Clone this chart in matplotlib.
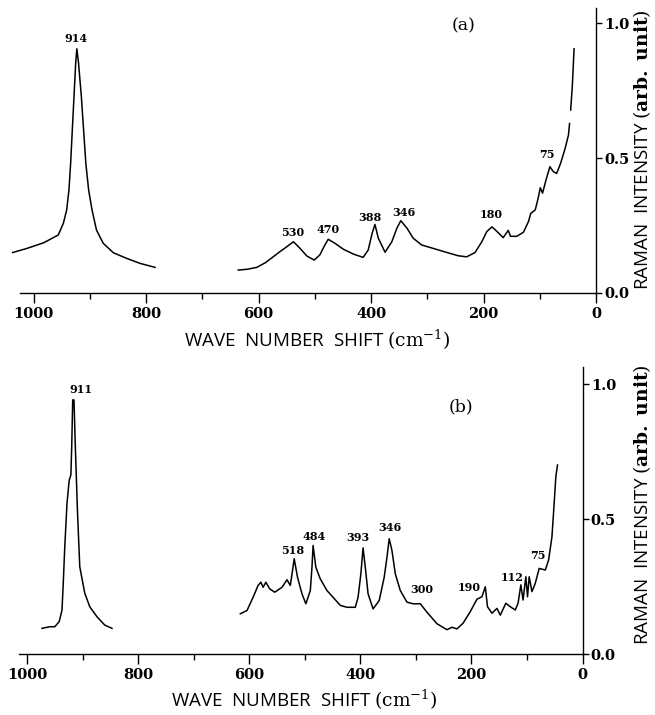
import numpy as np
import matplotlib
matplotlib.use("Agg")
import matplotlib.pyplot as plt
from matplotlib.ticker import MultipleLocator

plt.rcParams['mathtext.fontset'] = 'dejavuserif'

# (a) spectrum: peak near 914 and the 636..39 cm-1 part
xa_left = [1037, 1012, 982, 956, 947, 941, 937, 934, 931, 928, 925, 923, 920, 915, 911,
           907, 902, 896, 888, 876, 858, 834, 811, 784]
ya_left = [0.15, 0.165, 0.186, 0.215, 0.258, 0.308, 0.382, 0.481, 0.605, 0.729, 0.853,
           0.905, 0.853, 0.729, 0.605, 0.481, 0.382, 0.308, 0.233, 0.184, 0.149, 0.128,
           0.11, 0.095]
xa_right = [636, 620, 603, 588, 574, 562, 550, 538, 526, 514, 501, 491, 482, 476, 464,
            449, 431, 414, 405, 398, 393, 387, 375, 363, 354, 347, 336, 325, 310, 289,
            265, 245, 230, 215, 203, 194, 185, 176, 165, 156, 152, 141, 129, 120, 116,
            108, 103, 99, 95, 89, 82, 76, 70, 63, 55, 49, 47, np.nan, 45, 42, 39]
ya_right = [0.085, 0.088, 0.095, 0.112, 0.134, 0.153, 0.171, 0.19, 0.165, 0.137, 0.122,
            0.141, 0.178, 0.199, 0.184, 0.162, 0.144, 0.132, 0.159, 0.221, 0.254, 0.203,
            0.151, 0.19, 0.24, 0.268, 0.24, 0.203, 0.178, 0.165, 0.15, 0.138, 0.134,
            0.15, 0.19, 0.228, 0.245, 0.228, 0.205, 0.232, 0.21, 0.21, 0.225, 0.265,
            0.295, 0.308, 0.35, 0.39, 0.37, 0.418, 0.468, 0.45, 0.443, 0.48, 0.535,
            0.585, 0.628, np.nan, 0.678, 0.77, 0.905]
peaks_a = ['914', '530', '470', '388', '346', '180', '75']
peaks_a_x = [924, 539, 476, 402, 341, 187, 87]
peaks_a_y = [0.943, 0.225, 0.236, 0.279, 0.299, 0.29, 0.515]

# (b) spectrum
xb_left = [973, 959, 950, 942, 937, 935, 932, 928, 924, 921, 919.5, 917.7, 915.4, 913,
           909, 905, 896, 887, 874, 860, 847]
yb_left = [0.095, 0.101, 0.101, 0.12, 0.163, 0.249, 0.397, 0.558, 0.644, 0.663, 0.768,
           0.941, 0.941, 0.768, 0.521, 0.323, 0.225, 0.175, 0.138, 0.107, 0.095]
xb_right = [616, 604, 593, 584, 579, 575, 570, 563, 554, 541, 532, 526, 522, 519, 513,
            505, 498, 490, 487, 485, 480, 472, 460, 449, 436, 424, 409, 404, 399, 395,
            391, 386, 377, 366, 357, 352, 348, 343, 337, 328, 316, 305, 292, 280, 262,
            244, 235, 226, 215, 202, 190, 181, 175, 171, 163, 154, 148, 138, 130, 121,
            116, 111, 107, 102, 99, 96, 91, 85, 78, 67, 61, 55, 51, 48, 45]
yb_right = [0.149, 0.161, 0.21, 0.254, 0.266, 0.247, 0.266, 0.241, 0.229, 0.247, 0.275,
            0.254, 0.309, 0.353, 0.284, 0.223, 0.186, 0.235, 0.321, 0.402, 0.321, 0.278,
            0.235, 0.21, 0.18, 0.173, 0.173, 0.21, 0.297, 0.393, 0.321, 0.223, 0.167,
            0.198, 0.284, 0.358, 0.427, 0.383, 0.297, 0.235, 0.192, 0.186, 0.186, 0.155,
            0.112, 0.09, 0.099, 0.093, 0.114, 0.157, 0.203, 0.212, 0.249, 0.175, 0.151,
            0.169, 0.144, 0.188, 0.175, 0.163, 0.188, 0.256, 0.2, 0.286, 0.212, 0.286,
            0.231, 0.262, 0.317, 0.311, 0.348, 0.434, 0.558, 0.657, 0.7]
peaks_b = ['911', '518', '484', '393', '346', '300', '190', '112', '75']
peaks_b_x = [903, 522, 483, 405, 346, 289, 204, 127, 81]
peaks_b_y = [0.978, 0.383, 0.436, 0.43, 0.467, 0.238, 0.245, 0.284, 0.363]

xticks = [0, 200, 400, 600, 800, 1000]
yticks = [0.0, 0.5, 1.0]

fig = plt.figure(figsize=(6.55, 7.15), dpi=100)


def panel(rect, xlim, ylim, xmax_line, curves, labels, lx, ly, tag, tag_xy):
    ax = fig.add_axes(rect)
    for xs, ys in curves:
        ax.plot(xs, ys, color='black', lw=1.1)
    for t, x, y in zip(labels, lx, ly):
        ax.text(x, y, t, ha='center', va='center', fontsize=8,
                family='DejaVu Serif', fontweight='bold')
    ax.text(tag_xy[0], tag_xy[1], tag, ha='center', va='center', fontsize=12.5,
            family='DejaVu Serif')
    ax.set_xlim(xlim)
    ax.set_ylim(ylim)
    ax.spines['top'].set_visible(False)
    ax.spines['left'].set_visible(False)
    ax.spines['bottom'].set_bounds(0, xmax_line)
    ax.spines['bottom'].set_linewidth(1.0)
    ax.spines['right'].set_linewidth(1.0)
    ax.yaxis.tick_right()
    ax.set_yticks(yticks)
    ax.set_yticklabels(['%.1f' % v for v in yticks])
    ax.set_xticks(xticks)
    ax.set_xticklabels([str(v) for v in xticks])
    ax.xaxis.set_minor_locator(MultipleLocator(100))
    ax.tick_params(axis='x', which='major', direction='out', length=7, width=1,
                   pad=3, labelsize=10.5)
    ax.tick_params(axis='x', which='minor', direction='out', length=4, width=1)
    ax.tick_params(axis='y', direction='out', length=4, width=1, pad=2, labelsize=10.5)
    for lab in ax.get_xticklabels() + ax.get_yticklabels():
        lab.set_family('DejaVu Serif')
        lab.set_fontweight('bold')
    ax.patch.set_alpha(0)
    return ax


panel([10 / 655, 1 - 293 / 715, 586 / 655, 285 / 715], (1041.8, 0), (0, 1.056), 1024,
      [(xa_left, ya_left), (xa_right, ya_right)],
      peaks_a, peaks_a_x, peaks_a_y, '(a)', (236, 0.99))

panel([10 / 655, 1 - 654 / 715, 572.5 / 655, 287 / 715], (1030.6, 0), (0, 1.063), 1014,
      [(xb_left, yb_left), (xb_right, yb_right)],
      peaks_b, peaks_b_x, peaks_b_y, '(b)', (219, 0.916))

xlabel = 'WAVE  NUMBER  SHIFT $(\\mathrm{cm}^{-1})$'
ylabel = 'RAMAN  INTENSITY $(\\mathbf{arb.\\ unit})$'
fig.text(317 / 655, 1 - 340 / 715, xlabel, ha='center', va='center', fontsize=13.5,
         family='Open Sans')
fig.text(304 / 655, 1 - 700 / 715, xlabel, ha='center', va='center', fontsize=13.5,
         family='Open Sans')
fig.text(642 / 655, 1 - 150 / 715, ylabel, ha='center', va='center', fontsize=13.5,
         family='Open Sans', rotation=90)
fig.text(642 / 655, 1 - 505 / 715, ylabel, ha='center', va='center', fontsize=13.5,
         family='Open Sans', rotation=90)

fig.savefig('out.png', dpi=100)
